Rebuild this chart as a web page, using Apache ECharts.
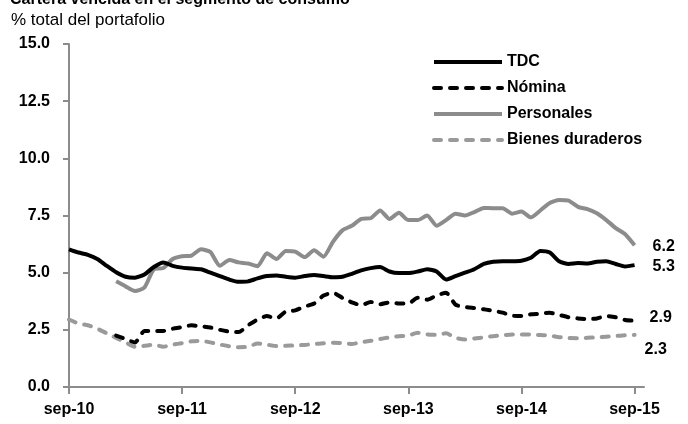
<!DOCTYPE html>
<html>
<head>
<meta charset="utf-8">
<script src="https://cdn.jsdelivr.net/npm/echarts@6/dist/echarts.min.js"></script>
<style>
  html, body { margin: 0; padding: 0; background: #fff; }
  #chart { width: 688px; height: 424px; }
</style>
</head>
<body>
<div id="chart"></div>
<script>
// monthly, sep-10 .. sep-15 (plus one empty slot so the axis runs a bit past sep-15)
const monthNames = ['sep', 'oct', 'nov', 'dic', 'ene', 'feb', 'mar', 'abr', 'may', 'jun', 'jul', 'ago']
const startYear = 10
const categories = []
for (let i = 0; i < 62; i++) {
  let yy = startYear + Math.floor((i + 8) / 12)
  categories.push(monthNames[i % 12] + '-' + yy)
}

const yTicks = [0, 2.5, 5, 7.5, 10, 12.5, 15]

const tdc = [6.02, 5.88, 5.78, 5.6, 5.3, 5.02, 4.82, 4.78, 4.92, 5.25,
  5.45, 5.3, 5.22, 5.18, 5.15, 5.0, 4.85, 4.7, 4.6, 4.62,
  4.75, 4.85, 4.88, 4.82, 4.78, 4.85, 4.9, 4.85, 4.8, 4.82,
  4.95, 5.1, 5.2, 5.25, 5.05, 4.98, 4.98, 5.05, 5.15, 5.05,
  4.7, 4.85, 5.0, 5.15, 5.38, 5.48, 5.5, 5.5, 5.52, 5.65,
  5.95, 5.88, 5.5, 5.38, 5.42, 5.4, 5.48, 5.5, 5.38, 5.27, 5.33]

const nomina = ['-', '-', '-', '-', '-', 2.25, 2.1, 1.95, 2.45, 2.45,
  2.45, 2.55, 2.62, 2.7, 2.65, 2.6, 2.5, 2.42, 2.4, 2.7,
  2.95, 3.1, 3.0, 3.3, 3.35, 3.52, 3.65, 4.0, 4.12, 3.9,
  3.7, 3.58, 3.72, 3.62, 3.7, 3.65, 3.65, 3.9, 3.82, 4.0,
  4.12, 3.6, 3.5, 3.45, 3.4, 3.33, 3.25, 3.12, 3.1, 3.18,
  3.2, 3.25, 3.15, 3.05, 3.0, 2.97, 3.0, 3.1, 3.05, 2.93, 2.9]

const personales = ['-', '-', '-', '-', '-', 4.62, 4.4, 4.2, 4.35, 5.15,
  5.2, 5.6, 5.72, 5.75, 6.02, 5.9, 5.3, 5.55, 5.45, 5.4,
  5.28, 5.85, 5.6, 5.95, 5.92, 5.68, 5.98, 5.7, 6.35, 6.85,
  7.05, 7.35, 7.38, 7.72, 7.35, 7.62, 7.3, 7.3, 7.5, 7.05,
  7.3, 7.58, 7.5, 7.65, 7.83, 7.82, 7.82, 7.58, 7.67, 7.42,
  7.72, 8.05, 8.18, 8.15, 7.88, 7.78, 7.6, 7.3, 6.95, 6.68, 6.2]

const bienes = [2.95, 2.78, 2.7, 2.55, 2.35, 2.15, 1.95, 1.76, 1.8, 1.85,
  1.76, 1.85, 1.92, 2.0, 2.02, 1.95, 1.86, 1.78, 1.74, 1.76,
  1.9, 1.85, 1.79, 1.8, 1.82, 1.84, 1.88, 1.91, 1.94, 1.92,
  1.88, 1.96, 2.02, 2.1, 2.17, 2.22, 2.25, 2.37, 2.3, 2.28,
  2.35, 2.15, 2.08, 2.12, 2.17, 2.22, 2.26, 2.3, 2.3, 2.3,
  2.27, 2.25, 2.18, 2.14, 2.13, 2.15, 2.17, 2.2, 2.23, 2.26, 2.28]

const font = '"Liberation Sans", Arial, sans-serif'
const axisGray = '#8c8c8c'

function endLabel(dx, dy) {
  return {
    show: true,
    distance: 0,
    offset: [dx, dy],
    fontFamily: font,
    fontSize: 16,
    fontWeight: 'bold',
    color: '#000',
    formatter: p => Number(p.value).toFixed(1)
  }
}

function lineSeries(name, data, color, dashed, lbl) {
  return {
    name: name,
    type: 'line',
    data: data,
    symbol: 'none',
    smooth: 0.2,
    connectNulls: false,
    lineStyle: {
      color: color,
      width: 4,
      type: dashed ? [7, 9] : 'solid',
      cap: dashed ? 'round' : 'butt',
      join: 'round'
    },
    itemStyle: { color: color },
    endLabel: lbl,
    emphasis: { disabled: true }
  }
}

let chart = echarts.init(document.getElementById('chart'), null, { renderer: 'canvas' })
chart.setOption({
  animation: false,
  backgroundColor: '#fff',
  title: [{
    text: 'Cartera vencida en el segmento de consumo',
    left: 10,
    top: -8,
    padding: 0,
    textStyle: { fontFamily: font, fontSize: 16, fontWeight: 'bold', color: '#000' }
  }, {
    text: '% total del portafolio',
    left: 11,
    top: 12,
    padding: 0,
    textStyle: { fontFamily: font, fontSize: 17, fontWeight: 'normal', color: '#000' }
  }],
  legend: {
    orient: 'vertical',
    left: 432,
    top: 54,
    padding: 0,
    itemWidth: 68,
    itemHeight: 14,
    itemGap: 10,
    itemStyle: { opacity: 0 },
    lineStyle: { width: 4 },
    textStyle: { fontFamily: font, fontSize: 16, fontWeight: 'bold', color: '#000' },
    data: ['TDC', 'Nómina', 'Personales', 'Bienes duraderos']
  },
  grid: { left: 69, right: 44, top: 44, bottom: 37, outerBoundsMode: 'none' },
  xAxis: {
    type: 'category',
    data: categories,
    boundaryGap: false,
    axisLine: { lineStyle: { color: axisGray, width: 2 } },
    axisTick: { show: true, interval: 11, length: 7, inside: false, lineStyle: { color: axisGray, width: 2 } },
    axisLabel: {
      interval: 11,
      margin: 15,
      fontFamily: font,
      fontSize: 16,
      fontWeight: 'bold',
      color: '#000'
    },
    splitLine: { show: false }
  },
  yAxis: {
    type: 'value',
    min: yTicks[0],
    max: yTicks[yTicks.length - 1],
    interval: 2.5,
    axisLine: { show: true, lineStyle: { color: axisGray, width: 2 } },
    axisTick: { show: true, length: 6, inside: false, lineStyle: { color: axisGray, width: 2 } },
    axisLabel: {
      margin: 19,
      fontFamily: font,
      fontSize: 16,
      fontWeight: 'bold',
      color: '#000',
      formatter: v => v.toFixed(1)
    },
    splitLine: { show: false }
  },
  series: [
    lineSeries('Bienes duraderos', bienes, '#9a9a9a', true, endLabel(10, 15)),
    lineSeries('Personales', personales, '#8c8c8c', false, endLabel(18, 1)),
    lineSeries('Nómina', nomina, '#000', true, endLabel(15, -3)),
    lineSeries('TDC', tdc, '#000', false, endLabel(18, 1))
  ]
})
</script>
</body>
</html>
